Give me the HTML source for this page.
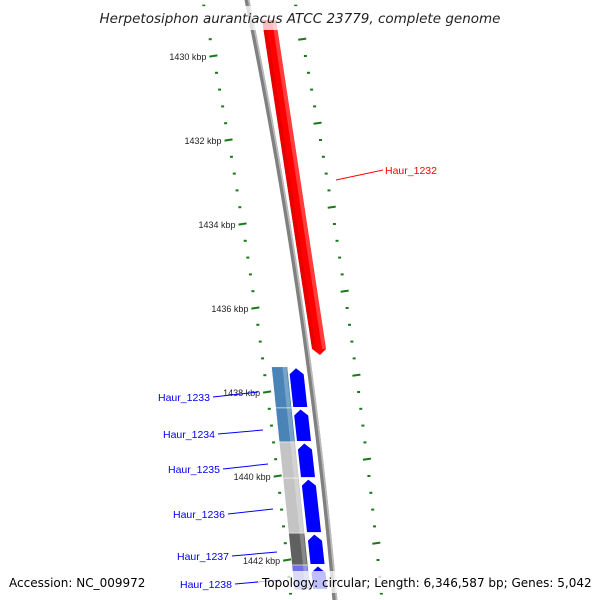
<!DOCTYPE html>
<html><head><meta charset="utf-8"><style>
body{margin:0;background:#fff}
svg{display:block;font-family:"Liberation Sans","DejaVu Sans",sans-serif}
</style></head><body>
<svg id="map" width="600" height="600" viewBox="0 0 600 600">
<g id="ticks"></g>
<g id="backbone"></g>
<g id="genes"></g>
<g id="labels"></g>
<rect x="92" y="6" width="414" height="24" fill="#fff" fill-opacity="0.75"/>
<text x="300" y="23" text-anchor="middle" font-size="13.5" font-style="italic" fill="#222" style="font-family:'DejaVu Sans',sans-serif">Herpetosiphon aurantiacus ATCC 23779, complete genome</text>
<rect x="4" y="571" width="146" height="22" fill="#fff" fill-opacity="0.75"/>
<text x="9" y="587" font-size="12" fill="#000" style="font-family:'DejaVu Sans',sans-serif">Accession: NC_009972</text>
<rect x="258" y="571" width="337" height="22" fill="#fff" fill-opacity="0.75"/>
<text x="262" y="587" font-size="12" fill="#000" style="font-family:'DejaVu Sans',sans-serif">Topology: circular; Length: 6,346,587 bp; Genes: 5,042</text>
</svg>
<script>
const majorTicks = [1430, 1432, 1434, 1436, 1438, 1440, 1442];
const geneNames = ["Haur_1232","Haur_1233","Haur_1234","Haur_1235","Haur_1236","Haur_1237","Haur_1238"];
const geneStarts = [1429.14, 1437.40, 1438.38, 1439.19, 1440.05, 1441.36, 1442.12];
const geneEnds   = [1437.12, 1438.38, 1439.19, 1440.05, 1441.36, 1442.12, 1442.71];
const geneStrand = [-1, 1, 1, 1, 1, 1, 1];
const cogColors = ["", "#4a84b6", "#4a84b6", "#c4c4c4", "#c4c4c4", "#606060", "#7070e0"];

const NS = "http://www.w3.org/2000/svg";
function yScale(k){ return 56 + (k - 1430) * 42; }
function leftRingX(y){ return 210 + 0.19*(y-38) - 0.000081*(y-38)*(y-38); }
function rightRingX(y){ return 302 + 0.19*(y-38) - 0.0000850*(y-38)*(y-38); }
function backboneX(y){ return 247 + 0.205*y - 0.0000975*y*y; }
function redX(y){ return 266 + 0.152*y; }
function cogX(y){ return 241.7 + 0.103*y; }
function blueX(y){ return 255.5 + 0.11*y; }
function mk(tag, attrs, parent){ const e=document.createElementNS(NS,tag); for(const k in attrs) e.setAttribute(k,attrs[k]); parent.appendChild(e); return e; }

const tg = document.getElementById('ticks');
const bg = document.getElementById('backbone');
const gg = document.getElementById('genes');
const lg = document.getElementById('labels');

// backbone
(function(){
  const L=[], R=[], H=[];
  for(let y=0;y<=600;y+=20){ L.push([backboneX(y)-2.5,y]); R.unshift([backboneX(y)+2.5,y]); }
  const b = mk('polygon',{points:L.concat(R).map(q=>q.join(',')).join(' '),fill:'#808080'},bg);
  
  
  const L2=[],R2=[];
  for(let y=0;y<=600;y+=20){ L2.push([backboneX(y)+0.8,y]); R2.unshift([backboneX(y)+2.5,y]); }
  const h = mk('polygon',{points:L2.concat(R2).map(q=>q.join(',')).join(' '),fill:'#bbb'},bg);
  
  
})();

for (let i = -6; i <= 35; i++) {
  const k = 1430 + i*0.4;
  const y = yScale(k);
  if (y < -5 || y > 600) continue;
  const x = leftRingX(y);
  const major = (i % 5 === 0);
  const el = mk('line', {x1: x-(major?4:1.5), y1: y+(major?0.6:0), x2: x+(major?4:1.5), y2: y-(major?0.6:0), stroke:'#1a7a1a', 'stroke-width':2}, tg);
  
  
}
for (let i = 0; i < majorTicks.length; i++) {
  const y = yScale(majorTicks[i]);
  const t = mk('text', {x: leftRingX(y)-7, y: y+4, 'text-anchor':'end', 'font-size':9, fill:'#222'}, tg);
  t.textContent = majorTicks[i] + ' kbp';
  
  
}
for (let i = -6; i <= 36; i++) {
  const k = 1429.6 + i*0.4;
  const y = yScale(k);
  if (y < -5 || y > 600) continue;
  const x = rightRingX(y);
  const major = (i % 5 === 0);
  const el = mk('line', {x1: x-(major?4:1.5), y1: y+(major?0.6:0), x2: x+(major?4:1.5), y2: y-(major?0.6:0), stroke:'#1a7a1a', 'stroke-width':2}, tg);
  
  
}

function slantPoly(xf, y0, y1, hw){
  return [[xf(y0)-hw,y0],[xf(y0)+hw,y0],[xf(y1)+hw,y1],[xf(y1)-hw,y1]];
}
const labelPos = [[385,170,336,180],[158,397,258,392],[163,434,263,430],[168,469,268,464],[173,514,273,509],[177,556,277,552],[180,584,280,580]];
for (let i = 0; i < geneNames.length; i++) {
  const y0 = yScale(geneStarts[i]), y1 = yScale(geneEnds[i]);
  if (geneStrand[i] < 0) {
    const hw = 7, tip = 6;
    const p = [[redX(y0)-hw,y0],[redX(y0)+hw,y0],[redX(y1-tip)+hw,y1-tip],[redX(y1),y1],[redX(y1-tip)-hw,y1-tip]];
    const g = mk('polygon', {points: p.map(q=>q.join(',')).join(' '), fill:'#ff0000'}, gg);
    
    
    const h = mk('polygon', {points: [[redX(y0)+3,y0],[redX(y0)+7,y0],[redX(y1-tip)+7,y1-tip],[redX(y1-tip)+3,y1-tip]].map(q=>q.join(',')).join(' '), fill:'#ff6666', opacity:0.6}, gg);
    
    
    const d = mk('polygon', {points: [[redX(y0)-7,y0],[redX(y0)-3,y0],[redX(y1-tip)-3,y1-tip],[redX(y1-tip)-7,y1-tip]].map(q=>q.join(',')).join(' '), fill:'#dd0000', opacity:0.7}, gg);
    
    
  } else {
    const c = mk('polygon', {points: slantPoly(cogX, y0, y1, 8).map(q=>q.join(',')).join(' '), fill: cogColors[i], stroke:'#fff', 'stroke-width':0.5}, gg);
    
    
    const s = mk('polygon', {points: slantPoly(y=>cogX(y)+5, y0, y1, 2).map(q=>q.join(',')).join(' '), fill:'#fff', opacity:0.25}, gg);
    
    
    const hw = 7, tip = 6, a = y0 + 1.5, b = y1 - 1;
    const p = [[blueX(a),a],[blueX(a+tip)+hw,a+tip],[blueX(b)+hw,b],[blueX(b)-hw,b],[blueX(a+tip)-hw,a+tip]];
    const g = mk('polygon', {points: p.map(q=>q.join(',')).join(' '), fill:'#0000ff'}, gg);
    
    
  }
  const lp = labelPos[i];
  const col = geneStrand[i] < 0 ? '#ff0000' : '#0000ff';
  const ln = mk('line', {x1: geneStrand[i]<0 ? lp[0]-2 : lp[0]+55, y1: lp[1], x2: lp[2], y2: lp[3], stroke: col, 'stroke-width':1}, lg);
  
  
  const t = mk('text', {x: lp[0], y: lp[1]+4, 'font-size':10.5, fill: col}, lg);
  t.textContent = geneNames[i];
  
  
}
</script>
</body></html>
